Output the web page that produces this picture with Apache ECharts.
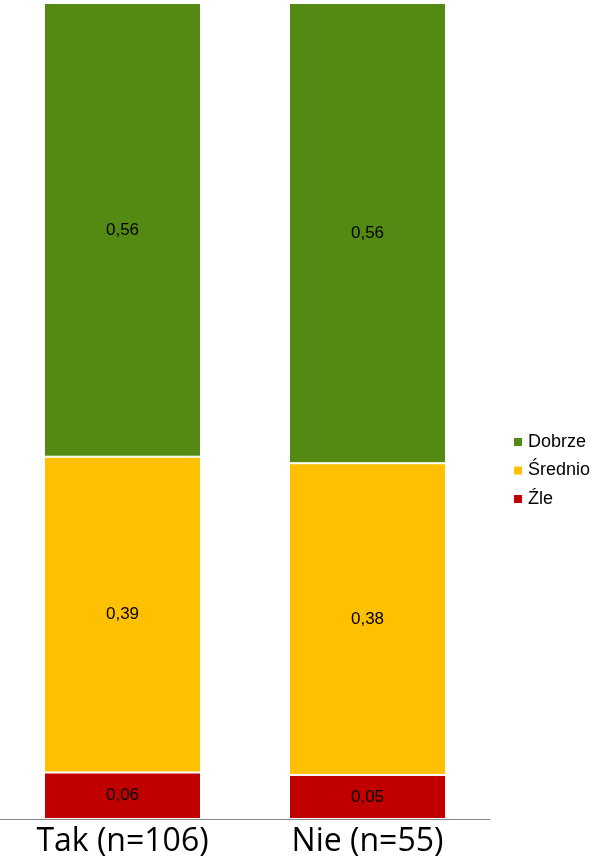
<!DOCTYPE html>
<html><head><meta charset="utf-8">
<script src="https://cdn.jsdelivr.net/npm/echarts@6/dist/echarts.min.js"></script>
<style>html,body{margin:0;padding:0;background:#fff}#c{width:596px;height:865px}</style>
</head><body><div id="c"></div>
<script>
const categories = ['Tak (n=106)', 'Nie (n=55)'];
const seriesNames = ['Źle', 'Średnio', 'Dobrze'];
const zle = [0.057, 0.054];
const srednio = [0.387, 0.382];
const dobrze = [0.556, 0.564];
const colors = ['#C00000', '#FFC000', '#548A14'];

const chart = echarts.init(document.getElementById('c'));
const fmt = p => p.value.toFixed(2).replace('.', ',');
const mk = (name, data, color) => ({
  name, type: 'bar', stack: 'total', data, barWidth: 157,
  itemStyle: { color, borderColor: '#fff', borderWidth: 1 },
  label: { show: true, position: 'inside', formatter: fmt, color: '#000', fontSize: 17, fontFamily: 'Liberation Sans' }
});
chart.setOption({
  animation: false,
  grid: { left: 0, right: 106, top: 3, bottom: 46 },
  legend: {
    orient: 'vertical', left: 512, top: 433, padding: 0,
    data: ['Dobrze', 'Średnio', 'Źle'],
    itemWidth: 10, itemHeight: 10, itemGap: 10.5, icon: 'rect',
    textStyle: { fontSize: 18, fontFamily: 'Liberation Sans', color: '#000', lineHeight: 18 }
  },
  xAxis: {
    type: 'category', data: categories,
    axisLine: { lineStyle: { color: '#888', width: 1 } },
    axisTick: { show: false },
    axisLabel: { fontSize: 32, fontFamily: 'Open Sans', color: '#000', margin: 7 }
  },
  yAxis: { type: 'value', min: 0, max: 1, show: false, splitLine: { show: false } },
  series: [mk(seriesNames[0], zle, colors[0]), mk(seriesNames[1], srednio, colors[1]), mk(seriesNames[2], dobrze, colors[2])]
});
</script></body></html>
